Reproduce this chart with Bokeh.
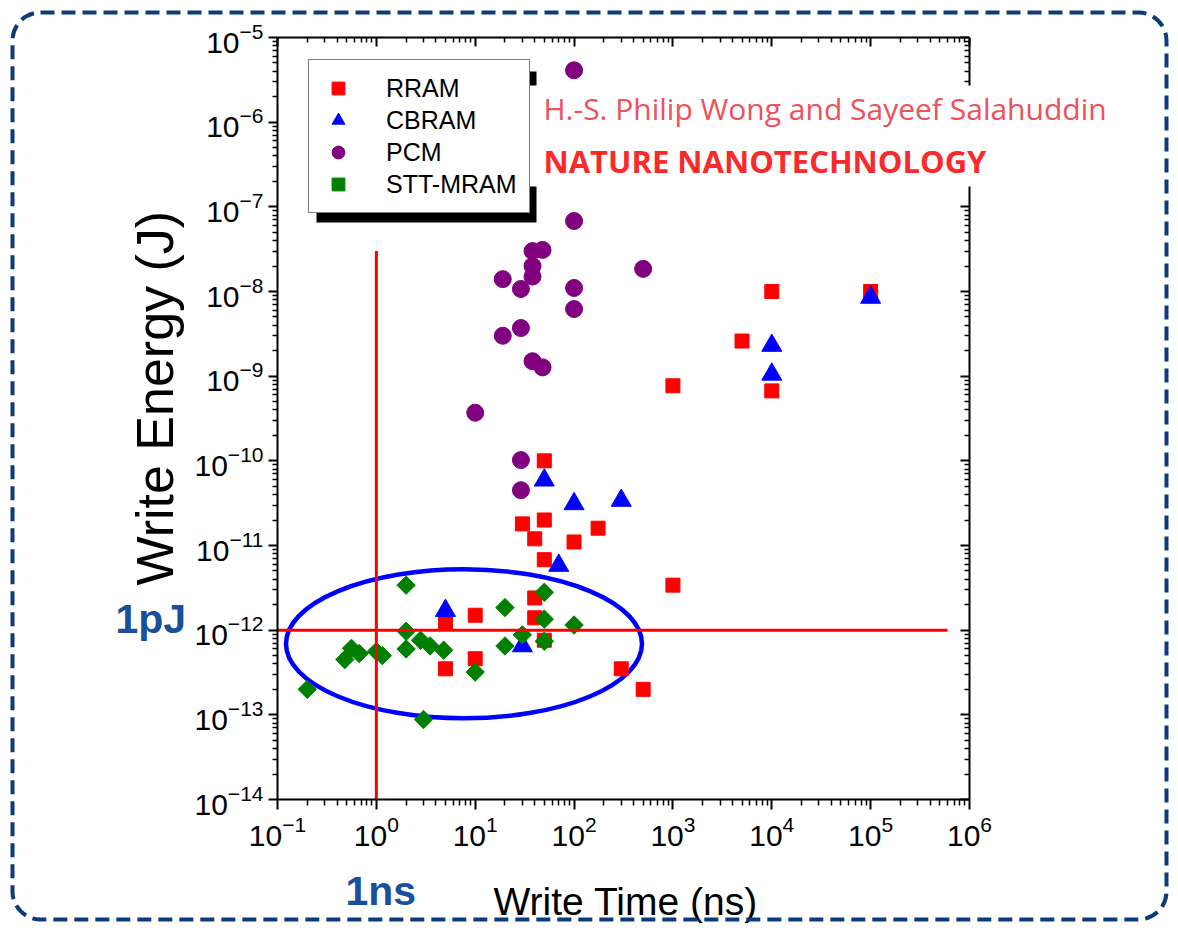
import math
from bokeh.plotting import figure
from bokeh.models import (LogAxis, FixedTicker, LogTickFormatter, Legend, LegendItem,
                          BoxAnnotation, Label, Range1d)
from bokeh.embed import file_html
from bokeh.resources import INLINE

# ---------------- data (write time in ns, write energy in J) ----------------
rram_time = [1e4, 1e5, 5e3, 1e3, 1e4, 50, 30, 50, 175, 40, 100, 50, 1e3, 40, 10, 5, 40, 50, 10, 5, 300, 500]
rram_energy = [1e-8, 1e-8, 2.6e-9, 7.7e-10, 6.7e-10, 1e-10, 1.8e-11, 2.0e-11, 1.6e-11, 1.2e-11, 1.1e-11,
               6.8e-12, 3.4e-12, 2.4e-12, 1.5e-12, 1.25e-12, 1.4e-12, 7.6e-13, 4.6e-13, 3.5e-13, 3.5e-13, 2.0e-13]

cbram_time = [1e4, 1e4, 1e5, 50, 100, 300, 70, 5, 30]
cbram_energy = [2.3e-9, 1.05e-9, 8.5e-9, 5.9e-11, 3.1e-11, 3.4e-11, 5.8e-12, 1.7e-12, 6.5e-13]

pcm_time = [100, 100, 38, 48, 38, 38, 19, 29, 100, 100, 500, 29, 19, 38, 48, 10, 29, 29]
pcm_energy = [4.1e-6, 6.8e-8, 3.0e-8, 3.1e-8, 2.0e-8, 1.5e-8, 1.4e-8, 1.07e-8, 1.1e-8, 6.2e-9, 1.85e-8,
              3.7e-9, 3.0e-9, 1.5e-9, 1.27e-9, 3.7e-10, 1.02e-10, 4.5e-11]

stt_time = [2, 50, 20, 50, 100, 2, 30, 2.8, 3.5, 4.8, 2, 50, 20, 0.56, 0.67, 0.48, 1.0, 1.15, 10, 0.2, 3]
stt_energy = [3.4e-12, 2.8e-12, 1.85e-12, 1.35e-12, 1.15e-12, 0.97e-12, 0.88e-12, 0.76e-12, 0.65e-12,
              0.58e-12, 0.6e-12, 0.74e-12, 0.65e-12, 0.61e-12, 0.53e-12, 0.45e-12, 0.56e-12, 0.5e-12,
              0.32e-12, 0.2e-12, 0.088e-12]

series_names = ["RRAM", "CBRAM", "PCM", "STT-MRAM"]

x_decades = [-1, 0, 1, 2, 3, 4, 5, 6]
y_decades = [-14, -13, -12, -11, -10, -9, -8, -7, -6, -5]

# reference guides
one_ns = 1.0
one_pj = 1e-12
vline_top = 3e-8
hline_right = 6e5
ellipse_center = (7.7, 6.9e-13)

x_major = [10.0 ** k for k in x_decades]
x_minor = [m * 10.0 ** k for k in x_decades[:-1] for m in range(2, 10)]
y_major = [10.0 ** k for k in y_decades]
y_minor = [m * 10.0 ** k for k in y_decades[:-1] for m in range(2, 10)]
x_lo, x_hi = 10.0 ** x_decades[0], 10.0 ** x_decades[-1]
y_lo, y_hi = 10.0 ** y_decades[0], 10.0 ** y_decades[-1]

# layout: the plot frame fills the whole canvas; the axes box sits at
# 277..969 px (x) and 37..799 px (y), axes are pinned to its edges
W, H = 1178, 931
BOX_L, BOX_R, BOX_T, BOX_B = 277, 969, 37, 799
x_per_px = (x_decades[-1] - x_decades[0]) / (BOX_R - BOX_L)
y_per_px = (y_decades[-1] - y_decades[0]) / (BOX_B - BOX_T)
x_view = (10.0 ** (x_decades[0] - BOX_L * x_per_px), 10.0 ** (x_decades[-1] + (W - BOX_R) * x_per_px))
y_view = (10.0 ** (y_decades[0] - (H - BOX_B) * y_per_px), 10.0 ** (y_decades[-1] + BOX_T * y_per_px))

FONT = "Liberation Sans"
BLUE_TXT = "#1a4f9c"

p = figure(width=W, height=H, x_axis_type="log", y_axis_type="log",
           x_range=Range1d(*x_view), y_range=Range1d(*y_view),
           output_backend="svg", toolbar_location=None,
           min_border_left=0, min_border_right=0, min_border_top=0, min_border_bottom=0,
           background_fill_color="white", border_fill_color="white")
p.outline_line_color = None
p.xgrid.visible = False
p.ygrid.visible = False

xa = p.xaxis[0]
ya = p.yaxis[0]
for ax, maj, mnr in [(xa, x_major, x_minor), (ya, y_major, y_minor)]:
    ax.ticker = FixedTicker(ticks=maj, minor_ticks=mnr)
    ax.formatter = LogTickFormatter()
    ax.axis_line_width = 2
    ax.axis_line_color = "black"
    ax.major_tick_line_width = 2
    ax.minor_tick_line_width = 1.5
    ax.major_tick_in = 0
    ax.minor_tick_in = 0
    ax.major_label_text_font = FONT
    ax.major_label_text_font_size = "30px"
    ax.major_label_text_color = "black"
xa.bounds = (x_lo, x_hi)
xa.fixed_location = y_lo
xa.major_tick_out = 10
xa.minor_tick_out = 6
xa.major_label_standoff = 6
ya.bounds = (y_lo, y_hi)
ya.fixed_location = x_lo
ya.major_tick_out = 9
ya.minor_tick_out = 5
ya.major_label_standoff = 5

# top axis and right axis: ticks only, pointing inwards
top_ax = LogAxis(ticker=FixedTicker(ticks=x_major, minor_ticks=x_minor), bounds=(x_lo, x_hi),
                 fixed_location=y_hi)
right_ax = LogAxis(ticker=FixedTicker(ticks=y_major, minor_ticks=y_minor), bounds=(y_lo, y_hi),
                   fixed_location=x_hi)
for ax2, loc in [(top_ax, "above"), (right_ax, "right")]:
    ax2.axis_line_width = 2
    ax2.major_tick_line_width = 2
    ax2.minor_tick_line_width = 1.5
    ax2.major_tick_in = 9
    ax2.major_tick_out = 0
    ax2.minor_tick_in = 5
    ax2.minor_tick_out = 0
    ax2.major_label_text_font_size = "4px"
    ax2.major_label_text_alpha = 0
    ax2.major_label_standoff = 0
    p.add_layout(ax2, loc)

# ellipse highlighting sub-pJ, ~ns region
p.ellipse(x=[ellipse_center[0]], y=[ellipse_center[1]], width=[356], height=[149],
          width_units="screen", height_units="screen",
          fill_color=None, line_color="#0000ff", line_width=4.5)

r_rram = p.scatter(rram_time, rram_energy, marker="square", size=14,
                   fill_color="#ff0000", line_color="#ff0000")
r_cbram = p.scatter(cbram_time, cbram_energy, marker="triangle", size=20,
                    fill_color="#0000ff", line_color="#0000ff")
r_pcm = p.scatter(pcm_time, pcm_energy, marker="circle", size=17,
                  fill_color="#800080", line_color="#800080")
r_stt = p.scatter(stt_time, stt_energy, marker="square", size=13, angle=math.pi / 4,
                  fill_color="#008000", line_color="#008000")

# 1 ns and 1 pJ guide lines
p.segment(x0=[one_ns], y0=[y_lo], x1=[one_ns], y1=[vline_top], line_color="#ff0000", line_width=3)
p.segment(x0=[x_lo], y0=[one_pj], x1=[hline_right], y1=[one_pj], line_color="#ff0000", line_width=3)

# axis titles and the blue "1pJ" / "1ns" marks
p.add_layout(Label(x=154, y=585, x_units="canvas", y_units="canvas", angle=math.pi / 2,
                   text="Write Energy (J)", text_font=FONT, text_font_size="52px",
                   text_color="black", text_baseline="alphabetic", text_align="left"))
p.add_layout(Label(x=493, y=901, x_units="canvas", y_units="canvas",
                   text="Write Time (ns)", text_font=FONT, text_font_size="39px",
                   text_color="black", text_baseline="alphabetic", text_align="left"))
p.add_layout(Label(x=115, y=618, x_units="canvas", y_units="canvas", text="1pJ",
                   text_font=FONT, text_font_style="bold", text_font_size="41px",
                   text_color=BLUE_TXT, text_baseline="alphabetic"))
p.add_layout(Label(x=345, y=890, x_units="canvas", y_units="canvas", text="1ns",
                   text_font=FONT, text_font_style="bold", text_font_size="41px",
                   text_color=BLUE_TXT, text_baseline="alphabetic"))

# legend shadow
shadow = BoxAnnotation(left=316, right=536, top=71, bottom=222,
                       left_units="canvas", right_units="canvas", top_units="canvas", bottom_units="canvas",
                       fill_color="black", fill_alpha=1, line_color=None)
p.add_layout(shadow)

legend = Legend(items=[LegendItem(label=n, renderers=[r]) for n, r in
                       zip(series_names, [r_rram, r_cbram, r_pcm, r_stt])],
                location=(308, H - 213))
legend.label_text_font = FONT
legend.label_text_font_size = "25px"
legend.label_text_color = "black"
legend.border_line_color = "black"
legend.border_line_width = 1.5
legend.background_fill_color = "white"
legend.background_fill_alpha = 1
legend.padding = 12
legend.spacing = -2
legend.glyph_width = 34
legend.glyph_height = 32
legend.label_height = 28
legend.label_standoff = 31
legend.margin = 0
p.add_layout(legend)

# citation box
cite_box = BoxAnnotation(left=519, right=1122, top=85, bottom=186,
                         left_units="canvas", right_units="canvas", top_units="canvas", bottom_units="canvas",
                         fill_color="white", fill_alpha=1, line_color=None)
p.add_layout(cite_box)
p.add_layout(Label(x=543, y=108, x_units="canvas", y_units="canvas",
                   text="H.-S. Philip Wong and Sayeef Salahuddin", text_font="Open Sans",
                   text_font_size="30px", text_color="#f0505a", text_baseline="middle"))
p.add_layout(Label(x=543, y=160, x_units="canvas", y_units="canvas",
                   text="NATURE NANOTECHNOLOGY", text_font="Open Sans", text_font_style="bold",
                   text_font_size="31px", text_color="#fa2a2a", text_baseline="middle"))

# rounded dashed outer border
frame_border = BoxAnnotation(left=12, right=1166, top=12, bottom=919,
                             left_units="canvas", right_units="canvas", top_units="canvas",
                             bottom_units="canvas", fill_alpha=0, line_color="#0d3b7a",
                             line_alpha=1, line_width=4, line_dash="14 7", border_radius=28)
p.add_layout(frame_border)

open("out.html", "w").write(file_html(p, INLINE))
